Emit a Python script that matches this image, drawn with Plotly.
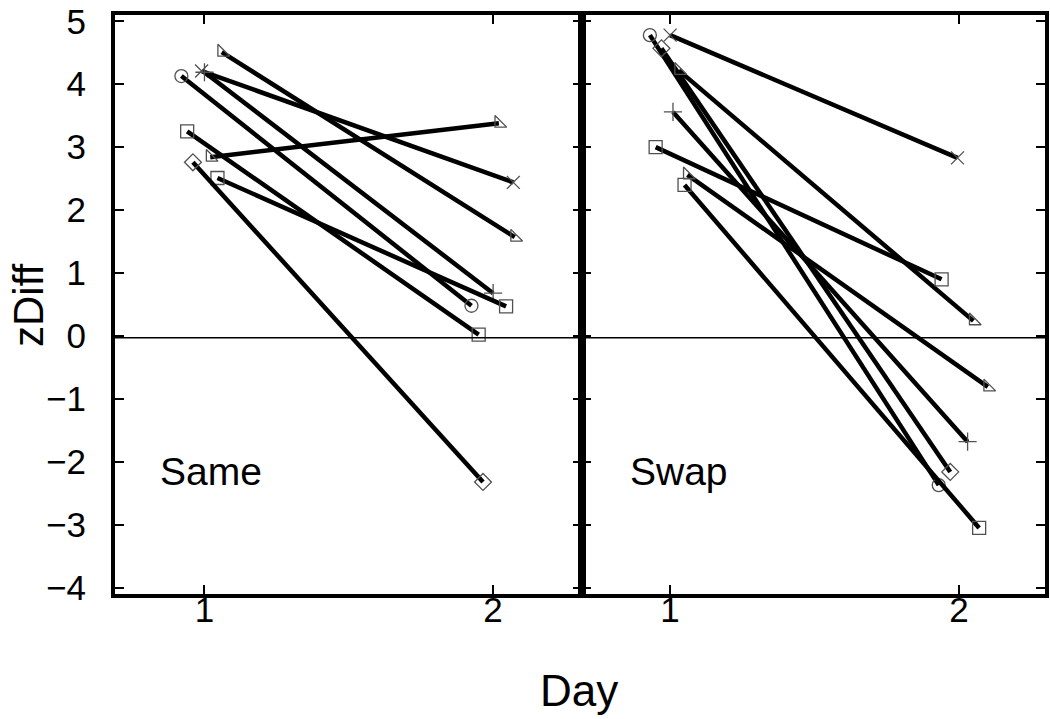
import plotly.graph_objects as go

# ---- data ----
subjects = ["triA", "circle", "x", "plus", "sqA", "sqB", "diamond", "triB"]
symbols = {
    "triA": "triangle-sw-open", "circle": "circle-open", "x": "x-thin-open",
    "plus": "cross-thin-open", "sqA": "square-open", "sqB": "square-open",
    "diamond": "diamond-open", "triB": "triangle-sw-open",
}

# Same group (left panel)
same_day1_x = [1.06, 0.92, 0.99, 1.00, 0.94, 1.045, 0.96, 1.02]
same_day1_y = [4.51, 4.13, 4.21, 4.19, 3.25, 2.51, 2.76, 2.84]
same_day2_x = [2.075, 1.925, 2.07, 2.00, 1.95, 2.045, 1.965, 2.02]
same_day2_y = [1.57, 0.48, 2.44, 0.68, 0.02, 0.47, -2.32, 3.38]

# Swap group (right panel)
swap_subjects = ["circle", "x", "diamond", "triA", "plus", "sqA", "triB", "sqB"]
swap_day1_x = [0.93, 1.00, 0.97, 1.03, 1.01, 0.95, 1.06, 1.05]
swap_day1_y = [4.78, 4.78, 4.57, 4.22, 3.56, 3.00, 2.56, 2.40]
swap_day2_x = [1.93, 1.995, 1.97, 2.05, 2.03, 1.94, 2.10, 2.07]
swap_day2_y = [-2.37, 2.83, -2.16, 0.24, -1.68, 0.90, -0.81, -3.05]

x_ticks = [1, 2]
y_ticks = [5, 4, 3, 2, 1, 0, -1, -2, -3, -4]
ref_line_y = -0.03
panel_labels = ["Same", "Swap"]

fig = go.Figure()

def add_panel(subs, x1, y1, x2, y2, xa, ya):
    for s, a, b, c, d in zip(subs, x1, y1, x2, y2):
        fig.add_trace(go.Scatter(
            x=[a, c], y=[b, d], mode="lines+markers",
            line=dict(color="black", width=4.5),
            marker=dict(symbol=symbols[s], size=13, color="#505050",
                        line=dict(color="#505050", width=1.3)),
            xaxis=xa, yaxis=ya, showlegend=False, hoverinfo="skip",
        ))

add_panel(subjects, same_day1_x, same_day1_y, same_day2_x, same_day2_y, "x", "y")
add_panel(swap_subjects, swap_day1_x, swap_day1_y, swap_day2_x, swap_day2_y, "x2", "y2")

font = "Liberation Sans, Arial, sans-serif"
split = (582 - 115) / 930

axis_common = dict(
    showgrid=False, zeroline=False, showline=True, linecolor="black",
    linewidth=4, mirror="ticks", ticks="inside", ticklen=9, tickwidth=1.5,
    tickcolor="black", automargin=False, ticklabeloverflow="allow",
)

fig.update_layout(
    width=1050, height=719,
    margin=dict(l=115, r=5, t=15, b=125),
    paper_bgcolor="white", plot_bgcolor="white",
    font=dict(family=font, color="black"),
    xaxis=dict(domain=[0, split], range=[0.69, 2.308], tickvals=x_ticks,
               tickfont=dict(size=35), ticklabelstandoff=-18, **axis_common),
    xaxis2=dict(domain=[split, 1], range=[0.695, 2.298], tickvals=x_ticks,
                tickfont=dict(size=35), ticklabelstandoff=-18, anchor="y2",
                **axis_common),
    yaxis=dict(range=[-4.1, 5.1], tickvals=y_ticks, tickfont=dict(size=35),
               ticklabelstandoff=18, **axis_common),
    yaxis2=dict(range=[-4.1, 5.1], tickvals=y_ticks, showticklabels=False,
                anchor="x2", **axis_common),
)

for xr, yr in [("x", "y"), ("x2", "y2")]:
    fig.add_shape(type="line", xref=f"{xr} domain", yref=yr, x0=0, x1=1,
                  y0=ref_line_y, y1=ref_line_y, line=dict(color="black", width=1.5))

fig.add_annotation(x=0.84, y=-2.16, xref="x", yref="y", text=panel_labels[0],
                   showarrow=False, xanchor="left", font=dict(size=39))
fig.add_annotation(x=0.855, y=-2.16, xref="x2", yref="y2", text=panel_labels[1],
                   showarrow=False, xanchor="left", font=dict(size=39))

fig.add_annotation(x=(579 - 115) / 930, y=(594 - 690) / 579, xref="paper", yref="paper",
                   text="Day", showarrow=False, font=dict(size=44),
                   xanchor="center", yanchor="middle")
fig.add_annotation(x=(29 - 115) / 930, y=(594 - 305) / 579, xref="paper", yref="paper",
                   text="zDiff", showarrow=False, font=dict(size=42), textangle=-90,
                   xanchor="center", yanchor="middle")

# remove the default 8px page margin so the figure sits at the window origin
fig.write_html("out.html", config={"displayModeBar": False},
               post_script="document.body.style.margin='0';document.body.style.overflow='hidden';")
